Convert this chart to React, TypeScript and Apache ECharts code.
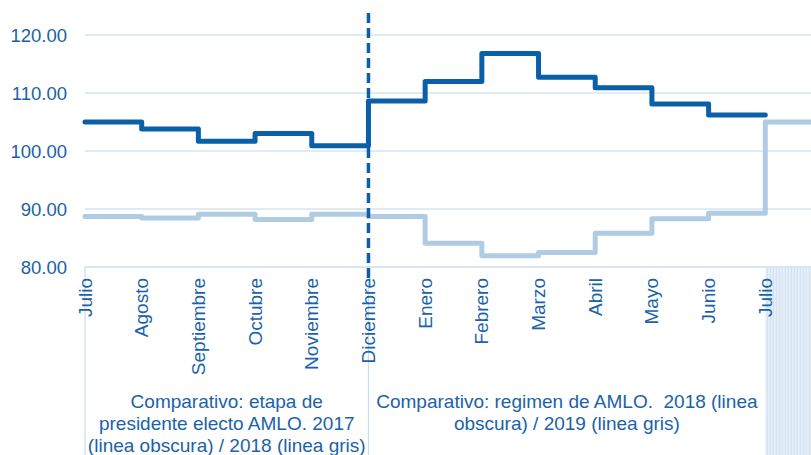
import React, { useEffect, useRef } from "react";
import * as echarts from "echarts";

const months = [
  "Julio", "Agosto", "Septiembre", "Octubre", "Noviembre", "Diciembre",
  "Enero", "Febrero", "Marzo", "Abril", "Mayo", "Junio", "Julio", "Agosto",
];
const visibleLabels = 13; // the last category lies beyond the picture's right edge
// dark line: 2017 -> 2018 (Jul..Jul)
const darkSeries = [105.0, 103.8, 101.7, 103.0, 100.9, 108.6, 112.0, 116.8, 112.7, 110.9, 108.1, 106.2, 106.2];
// light line: 2018 -> 2019
const lightSeries = [88.7, 88.45, 89.1, 88.2, 89.1, 88.7, 84.1, 81.95, 82.5, 85.8, 88.3, 89.25, 105.0, 105.0];
const yTicks = { min: 80, max: 120, interval: 10 };
const captionLeft = "Comparativo: etapa de\npresidente electo AMLO. 2017\n(linea obscura) / 2018 (linea gris)";
const captionRight = "Comparativo: regimen de AMLO.  2018 (linea\nobscura) / 2019 (linea gris)";

const TEXT = "#1a62a9";
const DARK = "#0a5fa9";
const LIGHT = "#b0cce4";
const GRID = "#d6e4f1";
const FONT = "'Liberation Sans', Arial, sans-serif";

export default function App() {
  const ref = useRef<HTMLDivElement>(null);
  useEffect(() => {
    const el = ref.current!;
    const chart = echarts.init(el, null, { renderer: "svg" });
    chart.setOption({
      animation: false,
      grid: { left: 85, right: 0, top: 35, bottom: 188, containLabel: false, outerBoundsMode: "none" },
      xAxis: {
        type: "category",
        data: months,
        boundaryGap: false,
        z: 5,
        axisLine: { show: true, lineStyle: { color: GRID, width: 1.5 } },
        axisTick: { show: false },
        splitLine: { show: false },
        axisLabel: {
          rotate: 90,
          interval: 0,
          margin: 11,
          color: TEXT,
          fontSize: 19,
          fontFamily: FONT,
          formatter: (v: string, i: number) => (i < visibleLabels ? v : ""),
        },
      },
      yAxis: {
        type: "value",
        min: yTicks.min,
        max: yTicks.max,
        interval: yTicks.interval,
        axisLine: { show: false },
        axisTick: { show: false },
        splitLine: { lineStyle: { color: GRID, width: 1.5 } },
        axisLabel: {
          margin: 18,
          color: TEXT,
          fontSize: 18.5,
          fontFamily: FONT,
          formatter: (v: number) => v.toFixed(2),
        },
      },
      series: [
        {
          type: "line",
          data: lightSeries,
          step: "end",
          symbol: "none",
          z: 2,
          lineStyle: { color: LIGHT, width: 5, join: "round", cap: "round" },
        },
        {
          type: "line",
          data: darkSeries,
          step: "end",
          symbol: "none",
          z: 3,
          lineStyle: { color: DARK, width: 5, join: "round", cap: "round" },
        },
      ],
    });

    const xStart = chart.convertToPixel({ xAxisIndex: 0 }, 0) as number;
    const xDic = chart.convertToPixel({ xAxisIndex: 0 }, 5) as number;
    const xEnd = chart.convertToPixel({ xAxisIndex: 0 }, 12) as number;
    const yBase = chart.convertToPixel({ yAxisIndex: 0 }, yTicks.min) as number;
    const W = chart.getWidth();
    const H = chart.getHeight();

    const stripes: any[] = [];
    for (let x = xEnd + 2; x < W; x += 3) {
      stripes.push({
        type: "line",
        z: 1,
        silent: true,
        shape: { x1: x, y1: yBase, x2: x, y2: H },
        style: { stroke: "#cfe0f1", lineWidth: 1 },
      });
    }

    chart.setOption({
      graphic: [
        {
          type: "rect",
          z: 0,
          silent: true,
          shape: { x: xEnd, y: yBase, width: W - xEnd, height: H - yBase },
          style: { fill: "#e6eff8" },
        },
        ...stripes,
        {
          type: "line",
          z: 0,
          silent: true,
          shape: { x1: xStart, y1: yBase, x2: xStart, y2: H },
          style: { stroke: "#c9dcee", lineWidth: 1.2 },
        },
        {
          type: "line",
          z: 0,
          silent: true,
          shape: { x1: xDic, y1: yBase, x2: xDic, y2: H },
          style: { stroke: "#c9dcee", lineWidth: 1.2 },
        },
        {
          type: "line",
          z: 10,
          silent: true,
          shape: { x1: xDic, y1: 13, x2: xDic, y2: 282 },
          style: { stroke: DARK, lineWidth: 3.5, lineDash: [10, 5] },
        },
        {
          type: "text",
          z: 10,
          silent: true,
          x: (xStart + xDic) / 2,
          y: 390,
          style: {
            text: captionLeft,
            align: "center",
            verticalAlign: "top",
            fill: TEXT,
            font: "19px 'Liberation Sans', Arial, sans-serif",
            lineHeight: 22,
          },
        },
        {
          type: "text",
          z: 10,
          silent: true,
          x: (xDic + xEnd) / 2,
          y: 390,
          style: {
            text: captionRight,
            align: "center",
            verticalAlign: "top",
            fill: TEXT,
            font: "19px 'Liberation Sans', Arial, sans-serif",
            lineHeight: 22,
          },
        },
      ],
    });

    return () => chart.dispose();
  }, []);

  return (
    <div style={{ position: "fixed", left: 0, top: 0, width: 811, height: 455, overflow: "hidden", background: "#fff" }}>
      <div ref={ref} style={{ width: 822, height: 455 }} />
    </div>
  );
}
